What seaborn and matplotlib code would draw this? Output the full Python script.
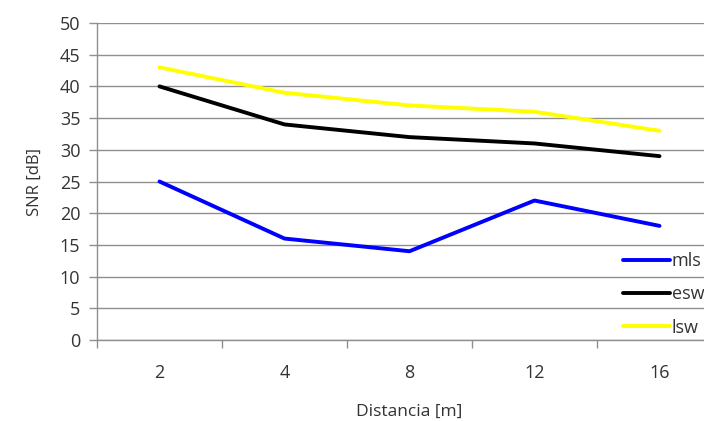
import matplotlib
matplotlib.use("Agg")
import matplotlib.pyplot as plt
import seaborn as sns
import pandas as pd
import numpy as np
from matplotlib.ticker import FixedLocator

distancias = ["2", "4", "8", "12", "16"]
mls = [25, 16, 14, 22, 18]
esw = [40, 34, 32, 31, 29]
lsw = [43, 39, 37, 36, 33]
series_names = ["mls", "esw", "lsw"]
colors = ["#0000FF", "#000000", "#FFFF00"]
y_ticks = list(range(0, 51, 5))

sns.set_theme(style="white")
plt.rcParams['font.family'] = ['Open Sans', 'DejaVu Sans']

rows = []
for name, vals in zip(series_names, [mls, esw, lsw]):
    for d, v in zip(distancias, vals):
        rows.append({"Distancia": d, "SNR": v, "serie": name})
df = pd.DataFrame(rows)

fig = plt.figure(figsize=(7.04, 4.21), dpi=100)
ax = fig.add_axes([97/704, 81/421, 625/704, 317/421])

sns.lineplot(data=df, x="Distancia", y="SNR", hue="serie", hue_order=series_names,
             palette=colors, linewidth=2.8, ax=ax, sort=False, legend=False)

ax.set_xlim(-0.5, 4.5)
ax.set_ylim(0, 50)
ax.set_yticks(y_ticks)
ax.yaxis.grid(True, color="#8f8f8f", linewidth=1.0)
ax.set_axisbelow(True)
for s in ["top", "right"]:
    ax.spines[s].set_visible(False)
ax.spines["left"].set_color("#8f8f8f")
ax.spines["bottom"].set_color("#8f8f8f")
ax.spines["left"].set_linewidth(1.0)
ax.spines["bottom"].set_linewidth(1.0)

ax.xaxis.set_minor_locator(FixedLocator(np.arange(-0.5, 5.0, 1.0)))
ax.tick_params(axis="x", which="major", length=0, pad=17, labelsize=13, colors="#333333")
ax.tick_params(axis="x", which="minor", length=6, width=1, color="#8f8f8f", direction="out", bottom=True)
ax.tick_params(axis="y", which="major", length=6, width=1, color="#8f8f8f", direction="out", left=True,
               labelsize=13, labelcolor="#333333", pad=6)

ax.set_xlabel("Distancia [m]", fontsize=12.5, color="#333333", labelpad=16)
ax.set_ylabel("SNR [dB]", fontsize=12, color="#333333", labelpad=12)

from matplotlib.lines import Line2D
handles = [Line2D([0], [0], color=c, linewidth=2.8) for c in colors]
fig.legend(handles, series_names, loc="upper left", bbox_to_anchor=(614/704, 1 - 243/421),
           frameon=False, fontsize=13, handlelength=2.6, handletextpad=0.1,
           labelspacing=0.85, labelcolor="#333333", borderpad=0)

fig.savefig("out.png", dpi=100)
